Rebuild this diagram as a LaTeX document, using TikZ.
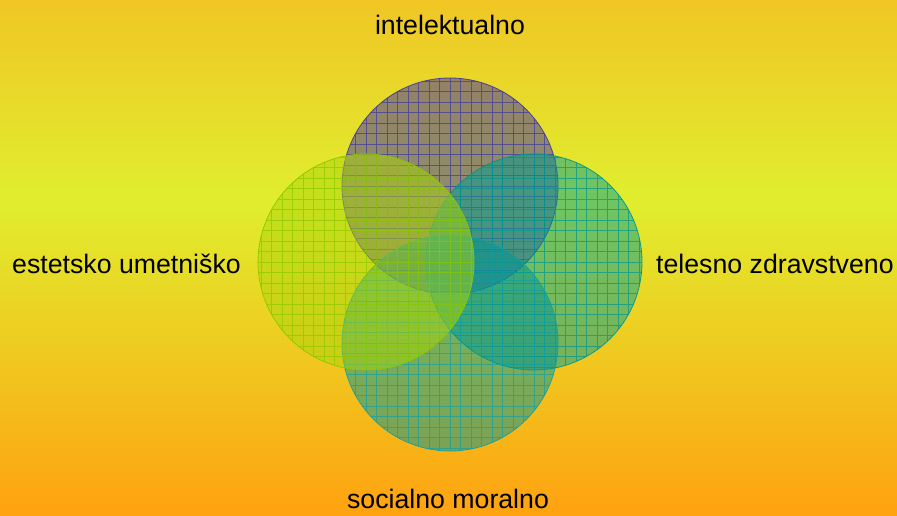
\documentclass[tikz,border=0pt]{standalone}
\usepackage{fontspec}
\setmainfont{Liberation Sans}
\usepackage{xcolor}
\definecolor{bgtop}{RGB}{240, 198, 36}
\definecolor{bgmid}{RGB}{224, 238, 47}
\definecolor{bgbot}{RGB}{255, 162, 16}
\definecolor{intelfill}{RGB}{62, 46, 168}
\definecolor{intelgrid}{RGB}{60, 56, 160}
\definecolor{estetfill}{RGB}{170, 212, 10}
\definecolor{estetgrid}{RGB}{140, 200, 0}
\definecolor{telesfill}{RGB}{0, 158, 150}
\definecolor{telesgrid}{RGB}{0, 150, 140}
\definecolor{socialfill}{RGB}{0, 148, 150}
\definecolor{socialgrid}{RGB}{20, 160, 160}

\tikzset{
  venn/.style={circle,minimum size=216pt,inner sep=0pt,fill opacity=0.5,draw opacity=0.9,line width=0.8pt},
  label/.style={font=\fontsize{26.7}{30}\selectfont,text=black,inner sep=0pt},
  vgrid/.style={path picture={
      \draw[#1,line width=0.9pt,opacity=0.7,step=10.5pt]
        (path picture bounding box.south west) grid (path picture bounding box.north east);
    }}
}

\begin{document}
\begin{tikzpicture}[x=1pt,y=1pt]
        \useasboundingbox (0,0) rectangle (897,515);
        \shade[top color=bgtop,bottom color=bgmid] (0,315) rectangle (897,515);
        \shade[top color=bgmid,bottom color=bgbot] (0,0) rectangle (897,315);

        % circles, clockwise from the top
        \node[venn,fill=intelfill,draw=intelgrid,vgrid=intelgrid] (intel) at (450,329) {};
        \node[venn,fill=telesfill,draw=telesgrid,vgrid=telesgrid] (teles) at (534,253) {};
        \node[venn,fill=socialfill,draw=socialgrid,vgrid=socialgrid] (social) at (450,172) {};
        \node[venn,fill=estetfill,draw=estetgrid,vgrid=estetgrid] (estet) at (366,253) {};

        % texts
        \node[label,anchor=base] (intellbl) at (450,480) {intelektualno};
        \node[label,anchor=base west] (teleslbl) at (656,242) {telesno zdravstveno};
        \node[label,anchor=base] (sociallbl) at (448,7) {socialno moralno};
        \node[label,anchor=base west] (estetlbl) at (12,242) {estetsko umetniško};
    \end{tikzpicture}
\end{document}
